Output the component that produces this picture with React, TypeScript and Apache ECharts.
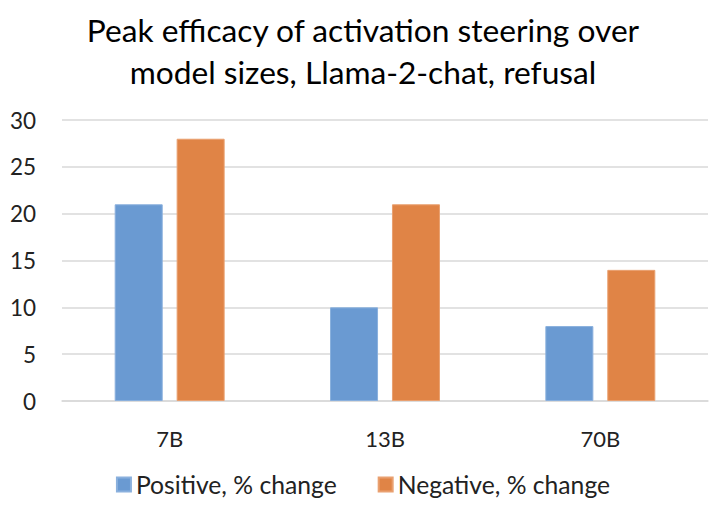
import React, { useEffect, useRef } from "react";
import * as echarts from "echarts";

const categories = ["7B", "13B", "70B"];
const positiveValues = [21, 10, 8];
const negativeValues = [28, 21, 14];
const seriesNames = ["Positive, % change", "Negative, % change"];
const titleText = "Peak efficacy of activation steering over\nmodel sizes, Llama-2-chat, refusal";

const FONT = "Lato, 'Open Sans', sans-serif";

export default function App() {
  const ref = useRef<HTMLDivElement>(null);
  useEffect(() => {
    const chart = echarts.init(ref.current!, undefined, { renderer: "svg" });
    chart.setOption({
      animation: false,
      backgroundColor: "#ffffff",
      title: {
        text: titleText,
        left: "center",
        top: 4,
        textStyle: { fontFamily: FONT, fontSize: 31.7, fontWeight: "normal", color: "#000", lineHeight: 42 },
      },
      legend: {
        bottom: 16,
        left: "center",
        itemWidth: 14,
        itemHeight: 14,
        itemGap: 41,
        itemTextGap: 8,
        icon: "rect",
        textStyle: { fontFamily: FONT, fontSize: 24.7, color: "#222" },
      },
      grid: { left: 62, right: 18, top: 120, bottom: 117 },
      xAxis: {
        type: "category",
        data: categories,
        axisLine: { lineStyle: { color: "#D9D9D9", width: 1.5 } },
        axisTick: { show: false },
        axisLabel: { fontFamily: FONT, fontSize: 22, color: "#222", margin: 26 },
      },
      yAxis: {
        type: "value",
        min: 0,
        max: 30,
        interval: 5,
        axisLine: { show: false },
        axisTick: { show: false },
        splitLine: { lineStyle: { color: "#D9D9D9", width: 1.5 } },
        axisLabel: { fontFamily: FONT, fontSize: 22.5, color: "#222", margin: 26 },
      },
      series: [
        {
          name: seriesNames[0],
          type: "bar",
          data: positiveValues,
          barWidth: "22.3%",
          barGap: "29%",
          itemStyle: { color: "#6A9AD2", borderColor: "#8AB0DD", borderWidth: 1 },
        },
        {
          name: seriesNames[1],
          type: "bar",
          data: negativeValues,
          barWidth: "22.3%",
          barGap: "29%",
          itemStyle: { color: "#E08446", borderColor: "#E9A070", borderWidth: 1 },
        },
      ],
    });
    return () => chart.dispose();
  }, []);
  return <div ref={ref} style={{ position: "fixed", left: 0, top: 0, width: 726, height: 518 }} />;
}
